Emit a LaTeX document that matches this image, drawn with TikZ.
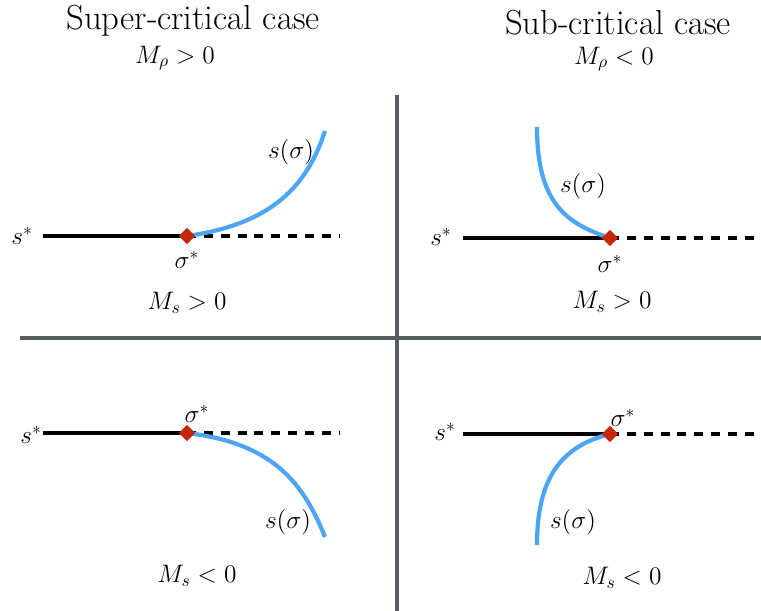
\documentclass[tikz,border=0pt]{standalone}
\usepackage{xcolor}
\usepackage{tikz}
\usetikzlibrary{shapes.geometric,positioning,calc}
\definecolor{curveblue}{HTML}{4DA6F5}
\definecolor{pointred}{HTML}{C2270C}
\definecolor{divider}{HTML}{575B63}

\begin{document}
\begin{tikzpicture}[x=0.02cm, y=-0.02cm,
    branch/.style={line width=2.4pt, black},
    unstable/.style={line width=2.4pt, black, dash pattern=on 5.1pt off 4.5pt},
    sol/.style={line width=2.4pt, curveblue},
    crit/.style={diamond, fill=pointred, inner sep=0pt, minimum size=0.33cm},
    sep/.style={line width=2pt, divider},
    lbl/.style={font=\fontsize{14}{17}\selectfont, inner sep=1pt}]
    \useasboundingbox (0,0) rectangle (761,611);

    % headings
    \node[font=\fontsize{19.8}{24}\selectfont] (supt) at (193,21) {Super-critical case};
    \node[font=\fontsize{19.8}{24}\selectfont] (subt) at (618,23) {Sub-critical case};
    \node[lbl] (mrp) at (175,58) {$M_\rho > 0$};
    \node[lbl] (mrn) at (614,59) {$M_\rho < 0$};

    % quadrant dividers
    \coordinate (vtop) at (397,95);
    \coordinate (vbot) at (397,611);
    \coordinate (hl) at (20,338);
    \coordinate (hr) at (761,338);
    \draw[sep] (vtop) -- (vbot);
    \draw[sep] (hl) -- (hr);

    % top left
    \coordinate (a1) at (43,236);
    \coordinate (p1) at (187,236);
    \coordinate (b1) at (339,236);
    \coordinate (e1) at (325,131);
    \draw[branch] (a1) -- (p1);
    \draw[unstable] (p1) -- (b1);
    \draw[sol] (p1) .. controls +(85,-12) and +(-18,55) .. (e1);
    \node[crit] (c1) at (p1) {};
    \node[lbl] (s1) at (22,236) {$s^*$};
    \node[lbl] (g1) at (187,260) {$\sigma^*$};
    \node[lbl] (f1) at (291,152) {$s(\sigma)$};
    \node[lbl] (m1) at (187,303) {$M_s > 0$};

    % top right
    \coordinate (a2) at (463,238);
    \coordinate (p2) at (610,238);
    \coordinate (b2) at (761,238);
    \coordinate (e2) at (537,127);
    \draw[branch] (a2) -- (p2);
    \draw[unstable] (p2) -- (b2);
    \draw[sol] (e2) .. controls +(0,78) and +(-42,-14) .. (p2);
    \node[crit] (c2) at (p2) {};
    \node[lbl] (s2) at (441,237) {$s^*$};
    \node[lbl] (g2) at (610,264) {$\sigma^*$};
    \node[lbl] (f2) at (583,186) {$s(\sigma)$};
    \node[lbl] (m2) at (612,302) {$M_s > 0$};

    % bottom left
    \coordinate (a3) at (43,433);
    \coordinate (p3) at (187,433);
    \coordinate (b3) at (339,433);
    \coordinate (e3) at (325,537);
    \draw[branch] (a3) -- (p3);
    \draw[unstable] (p3) -- (b3);
    \draw[sol] (p3) .. controls +(85,10) and +(-22,-55) .. (e3);
    \node[crit] (c3) at (p3) {};
    \node[lbl] (s3) at (31,435) {$s^*$};
    \node[lbl] (g3) at (197,414) {$\sigma^*$};
    \node[lbl] (f3) at (288,522) {$s(\sigma)$};
    \node[lbl] (m3) at (197,576) {$M_s < 0$};

    % bottom right
    \coordinate (a4) at (463,434);
    \coordinate (p4) at (610,434);
    \coordinate (b4) at (761,434);
    \coordinate (e4) at (537,545);
    \draw[branch] (a4) -- (p4);
    \draw[unstable] (p4) -- (b4);
    \draw[sol] (p4) .. controls +(-48,12) and +(0,-68) .. (e4);
    \node[crit] (c4) at (p4) {};
    \node[lbl] (s4) at (445,432) {$s^*$};
    \node[lbl] (g4) at (623,418) {$\sigma^*$};
    \node[lbl] (f4) at (573,522) {$s(\sigma)$};
    \node[lbl] (m4) at (622,578) {$M_s < 0$};
\end{tikzpicture}
\end{document}
